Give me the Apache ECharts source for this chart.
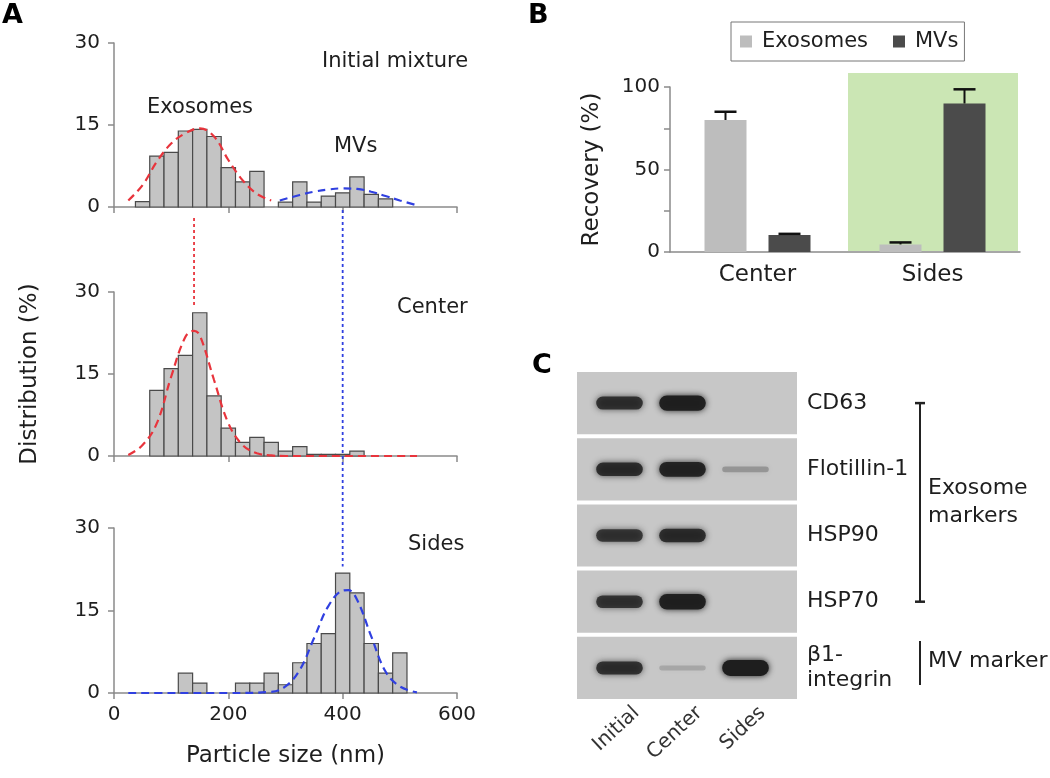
<!DOCTYPE html>
<html><head><meta charset="utf-8">
<script src="https://cdn.jsdelivr.net/npm/echarts@6/dist/echarts.min.js"></script>
<style>html,body{margin:0;padding:0;background:#fff}#c{width:1050px;height:778px}</style>
</head><body><div id="c"></div>
<script>
// ---------- Panel A: particle size distributions (%) ----------
const binCenters = [50,75,100,125,150,175,200,225,250,275,300,325,350,375,400,425,450,475,500];
const binWidth = 25;
const initialPct = [1.0,9.3,10.0,13.9,14.2,12.9,7.2,4.6,6.5,0,0.9,4.6,0.9,2.0,2.6,5.5,2.3,1.5,0];
const centerPct  = [0,12.0,16.0,18.4,26.2,11.0,5.1,2.5,3.4,2.5,0.9,1.7,0.3,0.3,0.3,0.9,0,0,0];
const sidesPct   = [0,0,0,3.6,1.8,0,0,1.8,1.8,3.6,1.5,5.5,9.0,10.8,21.8,18.2,9.0,3.6,7.3];
const histTitles = ['Initial mixture','Center','Sides'];
const xTicks = [0,200,400,600];
const yTicks = [0,15,30];

// fitted curves
const initExoX = [25,50,75,100,125,150,175,200,225,250,275];
const initExoY = [1.2,4.0,8.3,11.6,13.5,14.4,12.9,8.6,4.9,2.4,1.2];
const initMvX  = [290,325,350,375,400,425,450,475,500,530];
const initMvY  = [1.2,2.2,2.8,3.2,3.4,3.3,2.8,2.0,1.2,0.3];
const centerExoX = [25,50,75,100,125,140,150,175,200,225,250,275,300,400,530];
const centerExoY = [0.2,2.0,6.0,14.5,21.8,22.9,22.1,13.9,6.0,2.0,0.5,0.1,0,0,0];
const sidesMvX = [25,100,200,275,300,325,350,375,400,410,425,450,475,500,530];
const sidesMvY = [0,0,0,0.2,1.2,4.2,10.0,15.8,18.6,18.7,17.0,10.3,3.9,1.2,0.1];
const peakSizes = [140,400];   // dotted guides: exosome peak, MV peak

// ---------- Panel B: recovery (%) ----------
const groups = ['Center','Sides'];
const exoRecovery = [80,4.6];
const exoError    = [5,1.2];
const mvRecovery  = [10.3,90];
const mvError     = [0.7,8.6];

// ---------- Panel C: western blot ----------
const lanes = ['Initial','Center','Sides'];
const blotMarkers = ['CD63','Flotillin-1','HSP90','HSP70','β1-\nintegrin'];
const bandIntensity = [
  [0.75,0.95,0],
  [0.80,0.90,0.15],
  [0.70,0.80,0],
  [0.72,0.95,0],
  [0.75,0.08,1.0]
];
const markerGroups = ['Exosome\nmarkers','MV marker'];
const markerGroupRows = [[0,3],[4,4]];

// ---------- styles ----------
const FAM = 'DejaVu Sans';
const TXT = '#1e1e1e';
const AX = '#8a8a8a';
const RED = '#e8343c';
const BLUE = '#3040e0';
const BAR_W = 42, BAR_GAP = 22;

const chart = echarts.init(document.getElementById('c'), null, {renderer:'canvas'});

const histData = [initialPct, centerPct, sidesPct];
const histTops = [43, 292, 528];

const grids = histTops.map(t => ({left:114, top:t, width:343, height:t===528?165:164}));
grids.push({left:670, top:87, width:350, height:165});     // B
grids.push({left:588, top:370, width:189, height:331});    // C blot
grids.push({left:605, top:370, width:189, height:331});    // C lane labels

const xAxes = [], yAxes = [];
for (let i=0;i<3;i++){
  xAxes.push({gridIndex:i, type:'value', min:xTicks[0], max:xTicks[xTicks.length-1], interval:xTicks[1]-xTicks[0],
    axisLine:{show:true, lineStyle:{color:AX, width:1.5}},
    axisTick:{show:true, length:6, lineStyle:{color:AX, width:1.5}},
    axisLabel:{show:i===2, fontSize:20, fontFamily:FAM, color:TXT, margin:12},
    splitLine:{show:false},
    name: i===2 ? 'Particle size (nm)' : '', nameLocation:'middle', nameGap:52,
    nameTextStyle:{fontSize:23, fontFamily:FAM, color:TXT}});
  yAxes.push({gridIndex:i, type:'value', min:yTicks[0], max:yTicks[yTicks.length-1], interval:yTicks[1]-yTicks[0],
    axisLine:{show:true, lineStyle:{color:AX, width:1.5}},
    axisTick:{show:true, length:6, lineStyle:{color:AX, width:1.5}},
    axisLabel:{fontSize:20, fontFamily:FAM, color:TXT, margin:14},
    splitLine:{show:false},
    name: i===1 ? 'Distribution (%)' : '', nameLocation:'middle', nameGap:72,
    nameTextStyle:{fontSize:23, fontFamily:FAM, color:TXT}});
}
// B
xAxes.push({gridIndex:3, type:'category', data:groups,
  axisLine:{lineStyle:{color:AX, width:1.5}},
  axisTick:{alignWithLabel:true, length:6, lineStyle:{color:AX, width:1.5}},
  axisLabel:{fontSize:23, fontFamily:FAM, color:TXT, margin:12}});
yAxes.push({gridIndex:3, type:'value', min:0, max:100, interval:25,
  axisLine:{show:true, lineStyle:{color:AX, width:1.5}},
  axisTick:{show:true, length:6, lineStyle:{color:AX, width:1.5}},
  axisLabel:{fontSize:20, fontFamily:FAM, color:TXT, margin:10, formatter:v => (v%50===0 ? String(v) : '')},
  splitLine:{show:false},
  name:'Recovery (%)', nameLocation:'middle', nameGap:66,
  nameTextStyle:{fontSize:23, fontFamily:FAM, color:TXT}});
// C blot
xAxes.push({gridIndex:4, type:'category', data:lanes, show:false});
yAxes.push({gridIndex:4, type:'category', data:blotMarkers, inverse:true, position:'right',
  axisLine:{show:false}, axisTick:{show:false},
  axisLabel:{fontSize:22, fontFamily:FAM, color:TXT, margin:30, align:'left', lineHeight:25}});
// C lane labels
xAxes.push({gridIndex:5, type:'category', data:lanes,
  axisLine:{show:false}, axisTick:{show:false},
  axisLabel:{fontSize:20, fontFamily:FAM, color:'#333', rotate:43, margin:9}});
yAxes.push({gridIndex:5, type:'value', show:false});

function histRender(params, api){
  const x = api.value(0), y = api.value(1);
  if (!(y > 0)) return null;
  const p1 = api.coord([x - binWidth/2, y]);
  const p2 = api.coord([x + binWidth/2, 0]);
  return {type:'rect', shape:{x:p1[0], y:p1[1], width:p2[0]-p1[0], height:p2[1]-p1[1]},
    style:{fill:'#c4c4c4', stroke:'#4a4a4a', lineWidth:1.2}};
}
function zip(a,b){ return a.map((v,i)=>[v,b[i]]); }
function curve(idx, xs, ys, color){
  return {type:'line', xAxisIndex:idx, yAxisIndex:idx, data:zip(xs,ys), smooth:0.4, showSymbol:false,
    symbol:'none', z:4, lineStyle:{color, width:2.2, type:[8,5]}, silent:true};
}
function errRender(sign){
  return function(params, api){
    const i = api.value(0), v = api.value(1), e = api.value(2);
    const b = api.coord([i, v]), t = api.coord([i, v+e]);
    const x = b[0] + sign*(BAR_W/2 + BAR_GAP/2);
    return {type:'group', children:[
      {type:'line', shape:{x1:x, y1:b[1], x2:x, y2:t[1]}, style:{stroke:'#111', lineWidth:2}},
      {type:'line', shape:{x1:x-11, y1:t[1], x2:x+11, y2:t[1]}, style:{stroke:'#111', lineWidth:2.5}}
    ]};
  };
}

const series = [];
for (let i=0;i<3;i++){
  series.push({type:'custom', xAxisIndex:i, yAxisIndex:i, renderItem:histRender, encode:{x:0,y:1},
    data:binCenters.map((x,k)=>[x, histData[i][k]]), z:2, silent:true});
}
series.push(curve(0, initExoX, initExoY, RED));
series.push(curve(0, initMvX, initMvY, BLUE));
series.push(curve(1, centerExoX, centerExoY, RED));
series.push(curve(2, sidesMvX, sidesMvY, BLUE));
// B
series.push({name:'Exosomes', type:'bar', xAxisIndex:3, yAxisIndex:3, data:exoRecovery, barWidth:BAR_W,
  barGap:(BAR_GAP/BAR_W*100)+'%', itemStyle:{color:'#bdbdbd'}, z:3});
series.push({name:'MVs', type:'bar', xAxisIndex:3, yAxisIndex:3, data:mvRecovery, barWidth:BAR_W,
  barGap:(BAR_GAP/BAR_W*100)+'%', itemStyle:{color:'#4b4b4b'}, z:3});
series.push({type:'custom', xAxisIndex:3, yAxisIndex:3, renderItem:errRender(-1), encode:{x:0,y:1},
  data:groups.map((g,i)=>[i, exoRecovery[i], exoError[i]]), z:4});
series.push({type:'custom', xAxisIndex:3, yAxisIndex:3, renderItem:errRender(1), encode:{x:0,y:1},
  data:groups.map((g,i)=>[i, mvRecovery[i], mvError[i]]), z:4});
// C
series.push({type:'custom', xAxisIndex:4, yAxisIndex:4, encode:{x:0,y:1}, z:1, silent:true,
  data:blotMarkers.map((m,i)=>[0,i]),
  renderItem:function(params, api){
    const c = api.coord([0, api.value(1)]);
    const h = api.size([0,1])[1];
    const cs = params.coordSys;
    return {type:'rect', shape:{x:cs.x-11, y:c[1]-h/2+2, width:cs.width+31, height:h-4},
      style:{fill:'#c7c7c7'}};
  }});
const bandData = [];
bandIntensity.forEach((row,r)=>row.forEach((v,l)=>bandData.push([l,r,v])));
series.push({type:'custom', xAxisIndex:4, yAxisIndex:4, encode:{x:0,y:1}, z:2, silent:true,
  data:bandData,
  renderItem:function(params, api){
    const I = api.value(2);
    if (!(I > 0)) return null;
    const c = api.coord([api.value(0), api.value(1)]);
    const w = api.size([1,0])[0]*0.74;
    const h = 4 + 12*I;
    const a = Math.pow(I, 0.7);
    const col = 'rgba(30,30,30,'+a.toFixed(3)+')';
    return {type:'rect', shape:{x:c[0]-w/2, y:c[1]-h/2, width:w, height:h, r:h/2},
      style:{fill:col, shadowBlur:6, shadowColor:col}};
  }});

chart.setOption({
  animation:false,
  backgroundColor:'#fff',
  textStyle:{fontFamily:FAM},
  legend:{data:['Exosomes','MVs'], left:731, top:22, orient:'horizontal',
    borderColor:'#777', borderWidth:1, padding:[9,6,9,9], itemWidth:12, itemHeight:12, itemGap:25, icon:'rect',
    textStyle:{fontSize:21, fontFamily:FAM, color:TXT, padding:[0,0,0,5]}},
  grid:grids, xAxis:xAxes, yAxis:yAxes, series
});

// ---------- annotations computed from the axes ----------
const P = (q,v) => chart.convertToPixel(q,v);
const g = [];
// highlight behind "Sides" in B
const cS = P({xAxisIndex:3}, 'Sides'), cC = P({xAxisIndex:3}, 'Center');
const bw = cS - cC;
const yTopB = P({yAxisIndex:3}, 100) - 14, yBotB = P({yAxisIndex:3}, 0) - 1;
g.push({type:'rect', z:-10, shape:{x:cS-bw/2+3, y:yTopB, width:bw-5, height:yBotB-yTopB}, style:{fill:'#cbe6b4'}, silent:true});
// dotted guides
const rx = P({xAxisIndex:0}, peakSizes[0]);
g.push({type:'line', z:10, shape:{x1:rx, y1:P({yAxisIndex:0},0)+11, x2:rx, y2:P({yAxisIndex:1},27.5)},
  style:{stroke:RED, lineWidth:1.8, lineDash:[3,3]}, silent:true});
const bx = P({xAxisIndex:0}, peakSizes[1]);
g.push({type:'line', z:10, shape:{x1:bx, y1:P({yAxisIndex:0},0)+3, x2:bx, y2:P({yAxisIndex:2},23)},
  style:{stroke:BLUE, lineWidth:1.8, lineDash:[3,3]}, silent:true});
// panel text
function txt(t, x, y, size, opts){
  return Object.assign({type:'text', z:10, silent:true, style:Object.assign({text:t, x, y, fill:TXT,
    fontSize:size, fontFamily:FAM, align:'left', verticalAlign:'middle'}, opts||{})});
}
g.push(txt(histTitles[0], 322, 62, 21));
g.push(txt('Exosomes', 147, 108, 21));
g.push(txt('MVs', 334, 147, 21));
g.push(txt(histTitles[1], 397, 308, 21));
g.push(txt(histTitles[2], 408, 545, 21));
g.push(txt('A', 2, 16, 27, {fontWeight:'bold', fill:'#000'}));
g.push(txt('B', 528, 16, 27, {fontWeight:'bold', fill:'#000'}));
g.push(txt('C', 532, 366, 27, {fontWeight:'bold', fill:'#000'}));
// marker group brackets in C
const bracketX = 920;
markerGroups.forEach((lab, k)=>{
  const r0 = markerGroupRows[k][0], r1 = markerGroupRows[k][1];
  let y0 = P({yAxisIndex:4}, blotMarkers[r0]), y1 = P({yAxisIndex:4}, blotMarkers[r1]);
  if (r0 === r1){ y0 -= 27; y1 += 17; }
  g.push({type:'line', z:10, silent:true, shape:{x1:bracketX, y1:y0, x2:bracketX, y2:y1}, style:{stroke:'#222', lineWidth:2}});
  if (r0 !== r1){
    g.push({type:'line', z:10, silent:true, shape:{x1:bracketX-5, y1:y0, x2:bracketX+5, y2:y0}, style:{stroke:'#222', lineWidth:2.5}});
    g.push({type:'line', z:10, silent:true, shape:{x1:bracketX-5, y1:y1, x2:bracketX+5, y2:y1}, style:{stroke:'#222', lineWidth:2.5}});
  }
  g.push(txt(lab, bracketX+8, (y0+y1)/2 + (r0===r1?-2:0), 22, {lineHeight:28}));
});
chart.setOption({graphic:{elements:g}});
</script></body></html>
